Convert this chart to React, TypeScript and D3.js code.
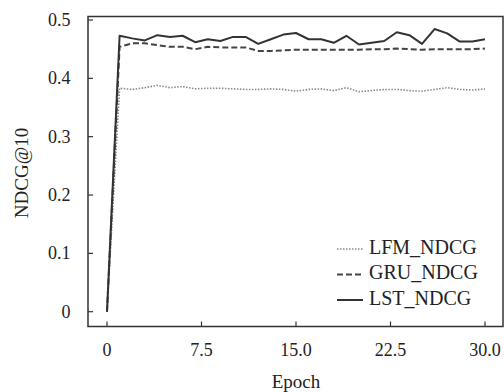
import React from "react";
import * as d3 from "d3";

const epochs = d3.range(0, 31);
const lfm = [0, 0.383, 0.381, 0.384, 0.388, 0.384, 0.386, 0.382, 0.383, 0.383, 0.382, 0.381, 0.381, 0.382, 0.381, 0.378, 0.381, 0.382, 0.379, 0.384, 0.377, 0.379, 0.381, 0.381, 0.379, 0.378, 0.381, 0.384, 0.381, 0.380, 0.382];
const gru = [0, 0.454, 0.460, 0.460, 0.457, 0.454, 0.454, 0.450, 0.454, 0.453, 0.453, 0.453, 0.447, 0.447, 0.448, 0.449, 0.449, 0.449, 0.449, 0.449, 0.449, 0.450, 0.450, 0.451, 0.450, 0.449, 0.450, 0.450, 0.450, 0.450, 0.451];
const lst = [0, 0.473, 0.4685, 0.465, 0.474, 0.471, 0.473, 0.462, 0.467, 0.464, 0.471, 0.471, 0.459, 0.467, 0.475, 0.4777, 0.467, 0.467, 0.461, 0.473, 0.458, 0.461, 0.464, 0.479, 0.474, 0.459, 0.4845, 0.477, 0.463, 0.463, 0.467];
const xTicks = [0, 7.5, 15, 22.5, 30];
const xTickLabels = ["0", "7.5", "15.0", "22.5", "30.0"];
const yTicks = [0, 0.1, 0.2, 0.3, 0.4, 0.5];
const yTickLabels = ["0", "0.1", "0.2", "0.3", "0.4", "0.5"];
const seriesNames = ["LFM_NDCG", "GRU_NDCG", "LST_NDCG"];

export default function App() {
  const W = 504, H = 392;
  const frame = { l: 88, t: 16.5, r: 503, b: 326.5 };
  const x = d3.scaleLinear().domain([0, 30]).range([107, 485]);
  const y = d3.scaleLinear().domain([0, 0.5]).range([311.7, 20]);
  const line = (vals: number[]) =>
    d3.line<number>().x((_, i) => x(epochs[i])).y((d) => y(d))(vals) || "";
  const series = [
    { name: seriesNames[0], vals: lfm, stroke: "#8a8a8a", w: 1.6, dash: "1.5,1.5" },
    { name: seriesNames[1], vals: gru, stroke: "#444", w: 2, dash: "6,3" },
    { name: seriesNames[2], vals: lst, stroke: "#333", w: 2, dash: "" },
  ];
  const font = "'Liberation Serif', 'Times New Roman', serif";
  return (
    <svg width={W} height={H} style={{ position: "absolute", left: 0, top: 0, fontFamily: font }}>
      <rect width={W} height={H} fill="#fff" />
      {series.map((s) => (
        <path key={s.name} d={line(s.vals)} fill="none" stroke={s.stroke} strokeWidth={s.w} strokeDasharray={s.dash || undefined} strokeLinejoin="round" />
      ))}
      <rect x={frame.l} y={frame.t} width={frame.r - frame.l} height={frame.b - frame.t} fill="none" stroke="#333" strokeWidth={1.5} />
      {xTicks.map((t, i) => (
        <g key={t}>
          <line x1={x(t)} x2={x(t)} y1={frame.b} y2={frame.b - 5} stroke="#333" strokeWidth={1.2} />
          <text x={x(t)} y={355.5} textAnchor="middle" fontSize={18} fill="#222">{xTickLabels[i]}</text>
        </g>
      ))}
      {yTicks.map((t, i) => (
        <g key={t}>
          <line x1={frame.l} x2={frame.l + 5} y1={y(t)} y2={y(t)} stroke="#333" strokeWidth={1.2} />
          <text x={70.5} y={y(t) + 6} textAnchor="end" fontSize={18} fill="#222">{yTickLabels[i]}</text>
        </g>
      ))}
      <text x={296} y={388} textAnchor="middle" fontSize={19} fill="#222">Epoch</text>
      <text transform={`translate(27.5,173) rotate(-90)`} textAnchor="middle" fontSize={19} fill="#222">NDCG@10</text>
      {series.map((s, i) => (
        <g key={"lg" + s.name} transform={`translate(0, ${249 + i * 25.5})`}>
          <line x1={337} x2={363} y1={0} y2={0} stroke={s.stroke} strokeWidth={s.w} strokeDasharray={s.dash || undefined} />
          <text x={369} y={4.5} fontSize={20} fill="#222">{s.name}</text>
        </g>
      ))}
    </svg>
  );
}
